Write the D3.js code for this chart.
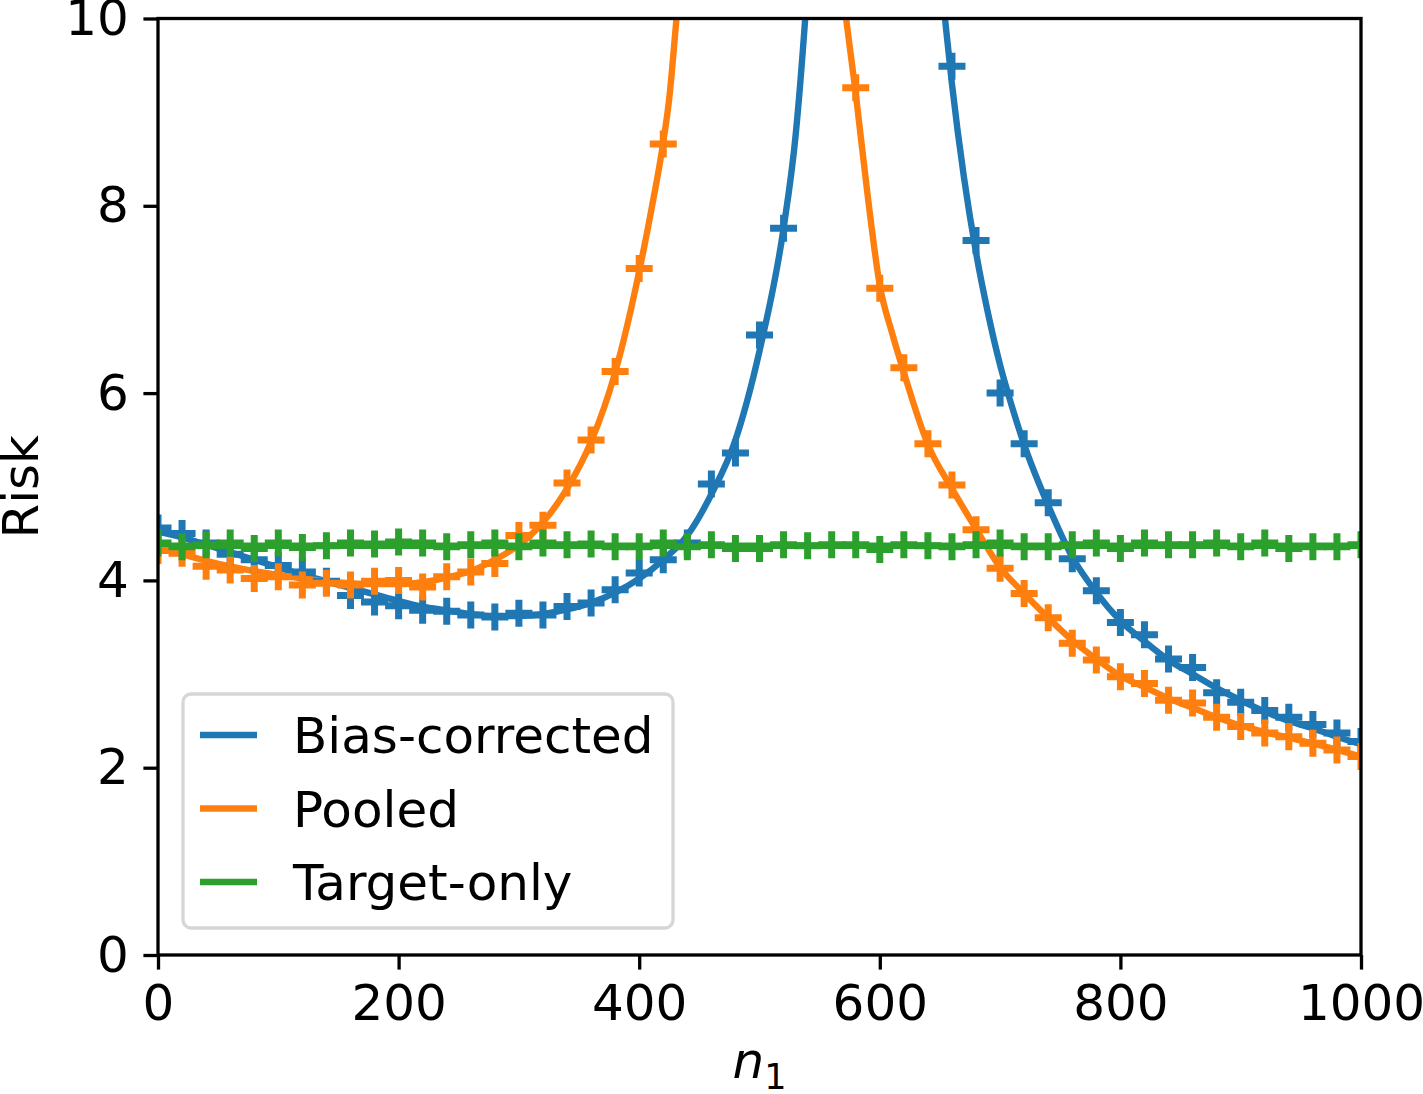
<!DOCTYPE html>
<html>
<head>
<meta charset="utf-8">
<script src="https://cdn.jsdelivr.net/npm/d3@7"></script>
<style>
  body { margin: 0; background: #fff; }
  text { font-family: "DejaVu Sans", sans-serif; }
</style>
</head>
<body>
<div id="wrapper"></div>
<script>
// marker grid (empirical runs every 20 samples)
const markerN = d3.range(0, 1001, 20);

const biasMarkers = [4.56, 4.50, 4.40, 4.28, 4.22, 4.16, 4.09, 3.99, 3.84, 3.77, 3.73,
  3.68, 3.67, 3.63, 3.61, 3.65, 3.63, 3.72, 3.76, 3.90, 4.08, 4.22, 4.40, 5.03, 5.36,
  6.62, 7.76, null, null, null, null, null, null, 9.49, 7.63, 6.00, 5.46, 4.83, 4.23,
  3.89, 3.55, 3.42, 3.16, 3.07, 2.80, 2.70, 2.61, 2.54, 2.46, 2.37, 2.28];
const pooledMarkers = [4.32, 4.29, 4.15, 4.11, 4.02, 4.04, 3.95, 3.97, 3.95, 3.99, 4.00,
  3.93, 4.04, 4.09, 4.18, 4.48, 4.59, 5.04, 5.50, 6.23, 7.33, 8.66, null, null, null,
  null, null, null, null, 9.26, 7.12, 6.27, 5.46, 5.02, 4.54, 4.13, 3.86, 3.60, 3.33,
  3.15, 2.97, 2.90, 2.72, 2.69, 2.54, 2.44, 2.37, 2.33, 2.26, 2.19, 2.12];
const targetMarkers = [4.40, 4.36, 4.38, 4.40, 4.34, 4.40, 4.35, 4.37, 4.40, 4.39, 4.41,
  4.40, 4.36, 4.38, 4.40, 4.36, 4.40, 4.38, 4.39, 4.36, 4.36, 4.40, 4.36, 4.38, 4.34,
  4.34, 4.38, 4.37, 4.38, 4.38, 4.33, 4.38, 4.37, 4.36, 4.38, 4.40, 4.36, 4.36, 4.38,
  4.40, 4.34, 4.40, 4.38, 4.38, 4.40, 4.36, 4.40, 4.34, 4.36, 4.36, 4.38];

// theoretical curves (null splits the two branches around the blow-up)
const biasLineN = [0, 20, 40, 60, 80, 100, 120, 140, 160, 180, 200, 220, 240, 260, 280, 300,
  320, 340, 360, 380, 400, 420, 440, 460, 480, 500, 520, 530, 538, 546,
  null, 646, 650, 655, 660, 670, 680, 690, 700, 710, 720, 740, 760, 780, 800, 820, 840,
  860, 880, 900, 920, 940, 960, 980, 1000];
const biasLineRisk = [4.52, 4.46, 4.38, 4.30, 4.22, 4.14, 4.06, 3.99, 3.92, 3.85, 3.78, 3.72,
  3.68, 3.64, 3.62, 3.62, 3.64, 3.69, 3.76, 3.87, 4.02, 4.22, 4.48, 4.92, 5.50, 6.45, 7.76,
  8.75, 10.0, 11.6,
  null, 11.4, 10.6, 9.9, 9.3, 8.3, 7.5, 6.85, 6.3, 5.85, 5.45, 4.8, 4.25, 3.87, 3.57, 3.35,
  3.15, 3.0, 2.85, 2.72, 2.6, 2.5, 2.42, 2.33, 2.25];
const pooledLineN = [0, 20, 40, 60, 80, 100, 120, 140, 160, 180, 200, 220, 240, 260, 280, 300,
  320, 340, 360, 380, 400, 410, 420, 425, 431, 438,
  null, 564, 572, 580, 590, 600, 610, 620, 640, 660, 680, 700, 720, 740, 760, 780, 800, 820,
  840, 860, 880, 900, 920, 940, 960, 980, 1000];
const pooledLineRisk = [4.36, 4.28, 4.21, 4.15, 4.10, 4.06, 4.02, 3.99, 3.97, 3.96, 3.96, 3.98,
  4.03, 4.10, 4.22, 4.38, 4.62, 4.98, 5.48, 6.22, 7.30, 7.95, 8.68, 9.15, 10.0, 11.0,
  null, 10.9, 10.0, 9.2, 8.1, 7.15, 6.65, 6.22, 5.45, 4.98, 4.55, 4.14, 3.86, 3.60, 3.36,
  3.16, 2.98, 2.86, 2.74, 2.64, 2.54, 2.45, 2.38, 2.32, 2.26, 2.19, 2.12];
const targetLineN = [0, 1000];
const targetLineRisk = [4.37, 4.37];

const xTicks = [0, 200, 400, 600, 800, 1000];
const yTicks = [0, 2, 4, 6, 8, 10];

const series = [
  { name: "Bias-corrected", color: "#1f77b4", lineN: biasLineN, lineRisk: biasLineRisk, markers: biasMarkers },
  { name: "Pooled", color: "#ff7f0e", lineN: pooledLineN, lineRisk: pooledLineRisk, markers: pooledMarkers },
  { name: "Target-only", color: "#2ca02c", lineN: targetLineN, lineRisk: targetLineRisk, markers: targetMarkers },
];

const fontSize = 50;
const dimensions = {
  width: 1423,
  height: 1094,
  margin: { top: 18.5, right: 62, bottom: 139, left: 158 },
};
dimensions.boundedWidth = dimensions.width - dimensions.margin.left - dimensions.margin.right;
dimensions.boundedHeight = dimensions.height - dimensions.margin.top - dimensions.margin.bottom;

const svg = d3.select("#wrapper").append("svg")
  .attr("width", dimensions.width)
  .attr("height", dimensions.height);

const bounds = svg.append("g")
  .attr("transform", `translate(${dimensions.margin.left},${dimensions.margin.top})`);

const x = d3.scaleLinear().domain([0, 1000]).range([0, dimensions.boundedWidth]);
const y = d3.scaleLinear().domain([0, 10]).range([dimensions.boundedHeight, 0]);

bounds.append("clipPath").attr("id", "plotClip")
  .append("rect")
  .attr("width", dimensions.boundedWidth)
  .attr("height", dimensions.boundedHeight);

const plot = bounds.append("g").attr("clip-path", "url(#plotClip)");

// curves first, then the + markers
const line = d3.line()
  .defined(d => d[1] != null && d[0] != null)
  .x(d => x(d[0]))
  .y(d => y(d[1]))
  .curve(d3.curveMonotoneX);

series.forEach(s => {
  const pts = s.lineN.map((n, i) => [n, s.lineRisk[i]]);
  plot.append("path")
    .attr("d", line(pts))
    .attr("fill", "none")
    .attr("stroke", s.color)
    .attr("stroke-width", 6.4)
    .attr("stroke-linejoin", "round");
});

const half = 13.5;
const plus = `M${-half},0H${half}M0,${-half}V${half}`;
series.forEach(s => {
  const pts = markerN.map((n, i) => [n, s.markers[i]]).filter(d => d[1] != null);
  plot.append("g").selectAll("path")
    .data(pts)
    .join("path")
    .attr("transform", d => `translate(${x(d[0])},${y(d[1])})`)
    .attr("d", plus)
    .attr("stroke", s.color)
    .attr("stroke-width", 7)
    .attr("fill", "none");
});

// axes
const tickLen = 14.6;
const xAxis = bounds.append("g")
  .attr("transform", `translate(0,${dimensions.boundedHeight})`)
  .call(d3.axisBottom(x).tickValues(xTicks).tickFormat(d3.format("d")).tickSize(tickLen).tickPadding(14.6));
const yAxis = bounds.append("g")
  .call(d3.axisLeft(y).tickValues(yTicks).tickFormat(d3.format("d")).tickSize(tickLen).tickPadding(14.6));

[xAxis, yAxis].forEach(a => {
  a.select(".domain").remove();
  a.selectAll(".tick line").attr("stroke", "#000").attr("stroke-width", 3.3);
  a.selectAll(".tick text")
    .attr("fill", "#000")
    .style("font-size", fontSize + "px")
    .style("font-family", "DejaVu Sans");
});

bounds.append("rect")
  .attr("width", dimensions.boundedWidth)
  .attr("height", dimensions.boundedHeight)
  .attr("fill", "none")
  .attr("stroke", "#000")
  .attr("stroke-width", 3.3)
  .attr("stroke-linejoin", "miter");

// axis labels
const xLabel = svg.append("text")
  .attr("x", dimensions.margin.left + dimensions.boundedWidth / 2)
  .attr("y", 1078)
  .attr("text-anchor", "middle")
  .style("font-size", fontSize + "px");
xLabel.append("tspan").style("font-style", "italic").text("n");
xLabel.append("tspan").attr("dy", 11).style("font-size", (fontSize * 0.7) + "px").text("1");

svg.append("text")
  .attr("transform", `translate(38,${dimensions.margin.top + dimensions.boundedHeight / 2}) rotate(-90)`)
  .attr("text-anchor", "middle")
  .style("font-size", fontSize + "px")
  .text("Risk");

// legend
const legend = svg.append("g");
legend.append("rect")
  .attr("x", 183)
  .attr("y", 694)
  .attr("width", 490)
  .attr("height", 234)
  .attr("rx", 8)
  .attr("fill", "#fff")
  .attr("fill-opacity", 0.8)
  .attr("stroke", "#d6d6d6")
  .attr("stroke-width", 3.3);

const rows = [735, 808.5, 882];
series.forEach((s, i) => {
  legend.append("line")
    .attr("x1", 200).attr("x2", 257)
    .attr("y1", rows[i]).attr("y2", rows[i])
    .attr("stroke", s.color)
    .attr("stroke-width", 6.4);
  legend.append("text")
    .attr("x", 293)
    .attr("y", rows[i] + fontSize * 0.36)
    .style("font-size", fontSize + "px")
    .text(s.name);
});
</script>
</body>
</html>
